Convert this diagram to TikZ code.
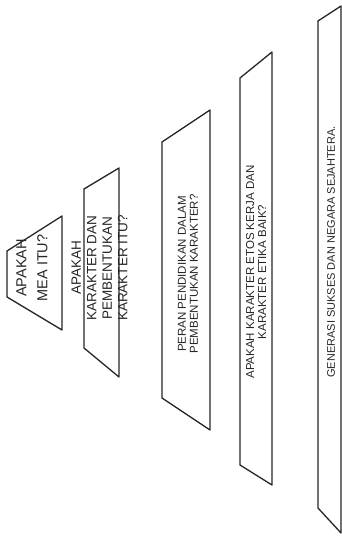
\documentclass[tikz,border=0pt]{standalone}
\usepackage{fontspec}
\setmainfont{Liberation Sans}
\tikzset{
  tier/.style={draw=black!85, line width=1.3pt, line join=round},
  bigtxt/.style={rotate=90, align=center, font=\fontsize{13.5}{15.5}\selectfont, text=black!85, inner sep=0pt},
  smalltxt/.style={rotate=90, align=center, font=\fontsize{11.5}{12}\selectfont, text=black!85, inner sep=0pt}
}
\begin{document}
\begin{tikzpicture}[x=1pt,y=-1pt]
\useasboundingbox (0,0) rectangle (342,540);
% tier 1
\draw[tier] (7,251) -- (62,216) -- (62,330) -- (7,297) -- cycle;
\node[bigtxt, font=\fontsize{14.5}{21}\selectfont] (t1) at (32,268) {APAKAH\\MEA ITU?};
% tier 2
\draw[tier] (84,189) -- (119,168) -- (119,377) -- (84,348) -- cycle;
\node[bigtxt] (t2) at (99.5,268) {APAKAH\\KARAKTER DAN\\PEMBENTUKAN\\KARAKTER ITU?};
% tier 3
\draw[tier] (162,142) -- (210,110) -- (210,430) -- (162,398) -- cycle;
\node[smalltxt] (t3) at (188,274) {PERAN PENDIDIKAN DALAM\\PEMBENTUKAN KARAKTER?};
% tier 4
\draw[tier] (240,78) -- (272,52) -- (272,485) -- (240,465) -- cycle;
\node[smalltxt] (t4) at (256,272) {APAKAH KARAKTER ETOS KERJA DAN\\KARAKTER ETIKA BAIK?};
% tier 5
\draw[tier] (318,21) -- (341,6) -- (341,533) -- (318,508) -- cycle;
\node[smalltxt, font=\fontsize{11}{12}\selectfont] (t5) at (331,252) {GENERASI SUKSES DAN NEGARA SEJAHTERA.};
\end{tikzpicture}
\end{document}
